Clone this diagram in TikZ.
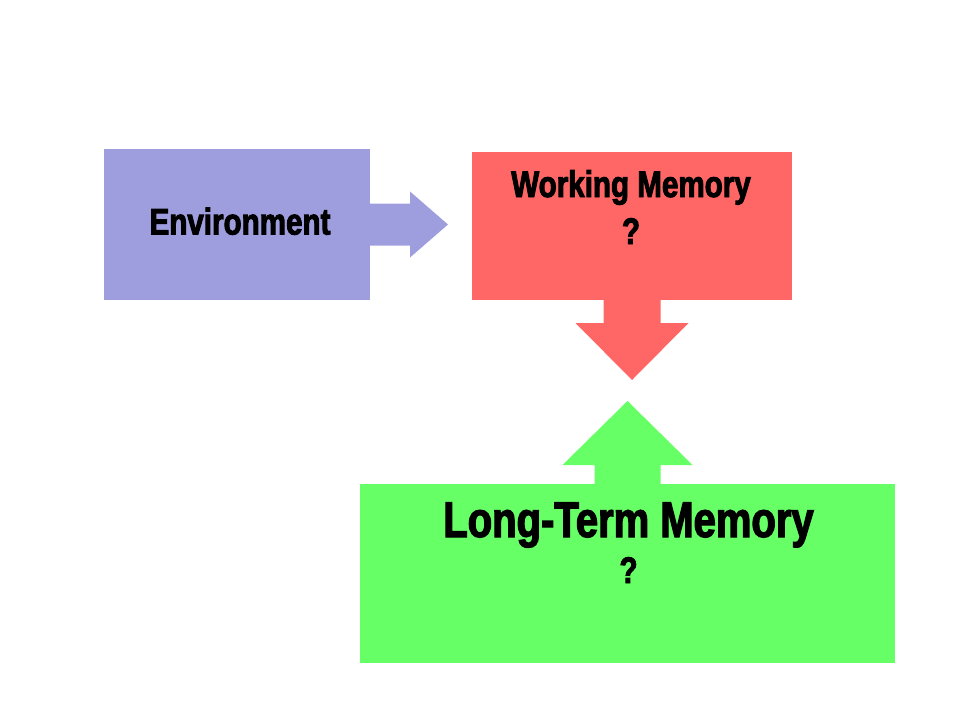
\documentclass[tikz,border=0pt]{standalone}
\usepackage{fontspec}
\newfontfamily\impactish{Liberation Sans}[FakeStretch=0.8,FakeBold=2.5]
\usetikzlibrary{calc,positioning}
\definecolor{envcol}{RGB}{158,158,222}
\definecolor{wmcol}{RGB}{255,102,102}
\definecolor{ltmcol}{RGB}{102,255,102}
\tikzset{
  box/.style={inner sep=0pt,outer sep=0pt,draw=none},
  lbl/.style={inner sep=0pt,outer sep=0pt,font=\impactish\bfseries\fontsize{37}{44}\selectfont},
  biglbl/.style={lbl,font=\impactish\bfseries\fontsize{50}{60}\selectfont}
}
\begin{document}
\begin{tikzpicture}[x=1pt,y=-1pt]
    \useasboundingbox (0,0) rectangle (960,720);

    \node[box,fill=envcol,minimum width=266,minimum height=151] (env) at (237,224.5) {};
    \node[box,fill=wmcol,minimum width=320,minimum height=148] (wm) at (632,226) {};
    \node[box,fill=ltmcol,minimum width=535,minimum height=179] (ltm) at (627.5,573.5) {};

    \node[lbl,anchor=base] (envtext) at ($(env.center)+(3,10)$) {Environment};
    \node[lbl,anchor=base] (wmtext) at ($(wm.north)+(-1,45)$) {Working Memory};
    \node[lbl,anchor=base] (wmq) at ($(wmtext.base)+(0,47)$) {?};
    \node[biglbl,anchor=base] (ltmtext) at ($(ltm.north)+(1,53)$) {Long-Term Memory};
    \node[lbl,anchor=base] (ltmq) at ($(ltmtext.base)+(0,46)$) {?};

    \fill[envcol] (env.east) ++(0,-21) -- ++(40,0) -- ++(0,-12) -- ++(38,33)
      -- ++(-38,33) -- ++(0,-12) -- ++(-40,0) -- cycle;
    \fill[wmcol] (wm.south) ++(-28.5,0) -- ++(0,23) -- ++(-28,0) -- ++(56.5,57)
      -- ++(56.5,-57) -- ++(-28,0) -- ++(0,-23) -- cycle;
    \fill[ltmcol] (ltm.north) ++(-33,0) -- ++(0,-19) -- ++(-32,0) -- ++(65,-64)
      -- ++(65,64) -- ++(-32,0) -- ++(0,19) -- cycle;
\end{tikzpicture}
\end{document}
